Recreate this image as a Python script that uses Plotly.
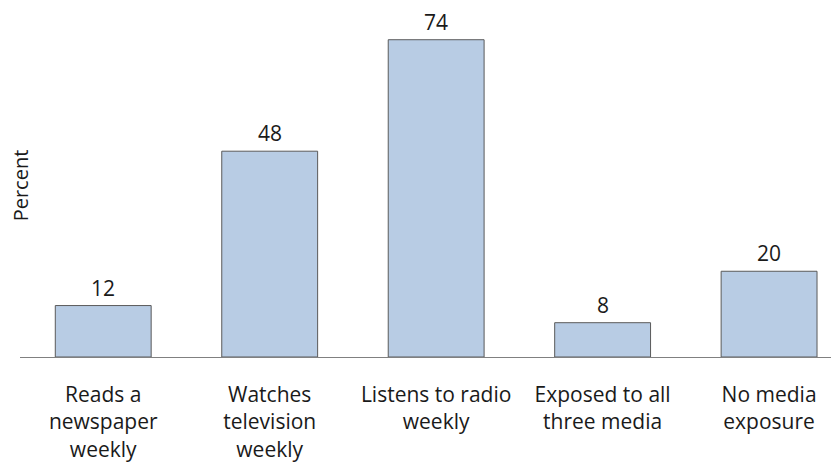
import plotly.graph_objects as go

categories = ["Reads a<br>newspaper<br>weekly", "Watches<br>television<br>weekly",
              "Listens to radio<br>weekly", "Exposed to all<br>three media", "No media<br>exposure"]
values = [12, 48, 74, 8, 20]
value_labels = ["12", "48", "74", "8", "20"]
y_title = "Percent"

FONT = "Open Sans"
TXT = "#1a1a1a"
fig = go.Figure()
fig.add_trace(go.Bar(
    x=list(range(len(categories))), y=values,
    width=0.576,
    marker=dict(color="#b8cce4", line=dict(color="#5a5a5a", width=1)),
    hoverinfo="skip",
))
for i, (v, t) in enumerate(zip(values, value_labels)):
    fig.add_annotation(x=i, y=v, text=t, showarrow=False, yanchor="bottom",
                       yshift=3, borderpad=0, font=dict(family=FONT, size=21, color=TXT))

fig.add_annotation(xref="paper", yref="paper", x=0.001, y=0.5, text=y_title, textangle=-90,
                   showarrow=False, xanchor="center", yanchor="middle",
                   font=dict(family=FONT, size=20, color=TXT))

fig.update_layout(
    width=831, height=460,
    margin=dict(l=12, r=0, t=6, b=111),
    plot_bgcolor="white", paper_bgcolor="white",
    showlegend=False,
    font=dict(family=FONT, size=21, color=TXT),
    xaxis=dict(range=[-0.5, 4.42], tickmode="array", tickvals=list(range(len(categories))),
               ticktext=categories, showgrid=False, zeroline=False, showline=False,
               automargin=False,
               ticks="", ticklabelstandoff=23, tickfont=dict(family=FONT, size=21, color=TXT)),
    yaxis=dict(range=[0, 80], showgrid=False, zeroline=True, zerolinecolor="#808080",
               zerolinewidth=1, showticklabels=False, ticks="", showline=False,
               automargin=False),
)
fig.write_html("out.html")
